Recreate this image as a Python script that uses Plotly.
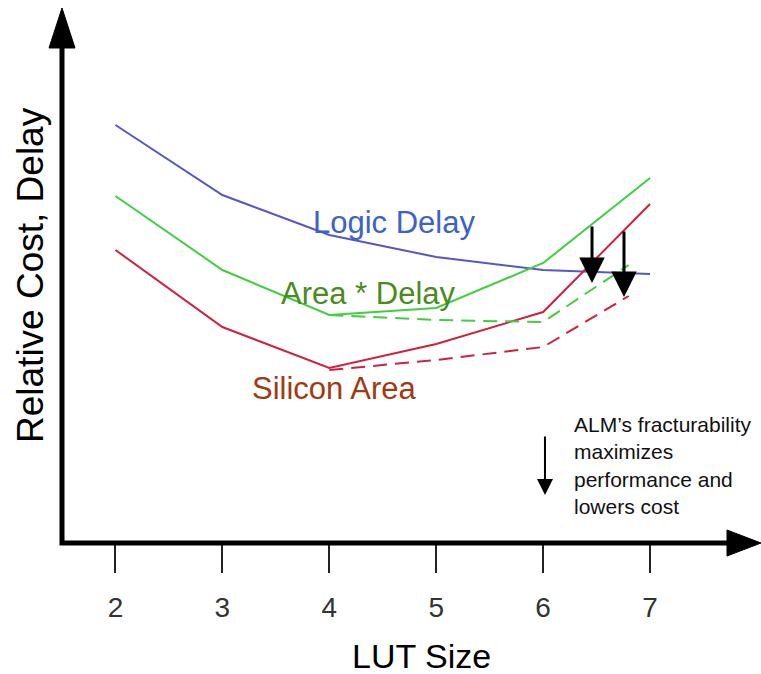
import plotly.graph_objects as go

# ---- data ----
lut_size = [2, 3, 4, 5, 6, 7]
logic_delay = [4.18, 3.48, 3.08, 2.86, 2.73, 2.69]
area_delay = [3.47, 2.73, 2.28, 2.35, 2.80, 3.65]
silicon_area = [2.93, 2.16, 1.75, 1.99, 2.31, 3.39]

alm_x = [4, 5, 6, 6.8]
alm_area_delay = [2.28, 2.23, 2.21, 2.78]
alm_silicon_area = [1.73, 1.83, 1.96, 2.47]

tick_vals = [2, 3, 4, 5, 6, 7]
tick_text = ["2", "3", "4", "5", "6", "7"]

# arrows showing the ALM improvement (x, from y, to y)
drop_arrows = [(6.457, 3.18, 2.60), (6.756, 3.13, 2.46)]

W, H = 761, 674
ML, MR, MT, MB = 62, 4, 8, 131
PW = W - ML - MR
PH = H - MT - MB

def px(xpix):
    return (xpix - ML) / PW

def py(ypix):
    return (H - MB - ypix) / PH

BLUE_LINE = "#5656c8"
GREEN_LINE = "#3fcf3f"
RED_LINE = "#d0203f"
FONT = "Liberation Sans, Arial"

fig = go.Figure()
fig.add_trace(go.Scatter(x=lut_size, y=logic_delay, mode="lines",
                         line=dict(color=BLUE_LINE, width=2), name="Logic Delay"))
fig.add_trace(go.Scatter(x=lut_size, y=area_delay, mode="lines",
                         line=dict(color=GREEN_LINE, width=2), name="Area * Delay"))
fig.add_trace(go.Scatter(x=lut_size, y=silicon_area, mode="lines",
                         line=dict(color=RED_LINE, width=2), name="Silicon Area"))
fig.add_trace(go.Scatter(x=alm_x, y=alm_area_delay, mode="lines",
                         line=dict(color=GREEN_LINE, width=2, dash="14px,8px"),
                         name="ALM Area * Delay"))
fig.add_trace(go.Scatter(x=alm_x, y=alm_silicon_area, mode="lines",
                         line=dict(color=RED_LINE, width=2, dash="14px,8px"),
                         name="ALM Silicon Area"))

annotations = []
for xa, y0, y1 in drop_arrows:
    annotations.append(dict(x=xa, y=y1, ax=xa, ay=y0, xref="x", yref="y",
                            axref="x", ayref="y", text="", showarrow=True,
                            arrowhead=2, arrowsize=1.7, arrowwidth=3,
                            arrowcolor="black"))
# small legend arrow
annotations.append(dict(x=6.017, y=0.48, ax=6.017, ay=1.08, xref="x", yref="y",
                        axref="x", ayref="y", text="", showarrow=True,
                        arrowhead=2, arrowsize=1.6, arrowwidth=2,
                        arrowcolor="black"))
annotations.append(dict(x=6.27, y=1.325, xref="x", yref="y", xanchor="left",
                        yanchor="top", align="left", showarrow=False,
                        text="ALM\u2019s fracturability<br>maximizes<br>performance and<br>lowers cost",
                        font=dict(family=FONT, size=21, color="#111111")))
# curve labels
annotations.append(dict(x=4.605, y=3.21, xref="x", yref="y", showarrow=False,
                        text="Logic Delay",
                        font=dict(family=FONT, size=31, color="#3b62cc")))
annotations.append(dict(x=4.367, y=2.50, xref="x", yref="y", showarrow=False,
                        text="Area * Delay",
                        font=dict(family=FONT, size=31, color="#4a8c1c")))
annotations.append(dict(x=4.04, y=1.55, xref="x", yref="y", showarrow=False,
                        text="Silicon Area",
                        font=dict(family=FONT, size=31, color="#a2390f")))
# axis titles
annotations.append(dict(x=px(30), y=py(275), xref="paper", yref="paper",
                        xanchor="center", yanchor="middle",
                        showarrow=False, textangle=-90, text="Relative Cost, Delay",
                        font=dict(family=FONT, size=37, color="black")))
annotations.append(dict(x=px(421), y=py(656), xref="paper", yref="paper",
                        xanchor="center", yanchor="middle",
                        showarrow=False, text="LUT Size",
                        font=dict(family=FONT, size=34, color="black")))

shapes = [
    # axis lines
    dict(type="path", xref="paper", yref="paper",
         path=f"M 0,{py(45)} L 0,0 L {px(730)},0",
         line=dict(color="black", width=5)),
    # y-axis arrowhead
    dict(type="path", xref="paper", yref="paper",
         path=f"M {px(49)},{py(48)} L {px(62)},{py(8)} L {px(75)},{py(48)} Z",
         fillcolor="black", line=dict(color="black", width=1)),
    # x-axis arrowhead
    dict(type="path", xref="paper", yref="paper",
         path=f"M {px(727)},{py(530)} L {px(761)},{py(543)} L {px(727)},{py(556)} Z",
         fillcolor="black", line=dict(color="black", width=1)),
]

fig.update_layout(
    width=W, height=H,
    margin=dict(l=ML, r=MR, t=MT, b=MB),
    paper_bgcolor="white", plot_bgcolor="white",
    showlegend=False,
    annotations=annotations,
    shapes=shapes,
    xaxis=dict(range=[1.5, 8.0], tickvals=tick_vals, ticktext=tick_text,
               ticks="outside", ticklen=29, tickwidth=2, tickcolor="#222222",
               showgrid=False, zeroline=False, showline=False,
               tickfont=dict(family=FONT, size=28, color="#333333"),
               ticklabelstandoff=10, fixedrange=True),
    yaxis=dict(range=[0, PH / 100.0], visible=False, showgrid=False,
               zeroline=False, fixedrange=True),
)

fig.write_html("out.html")
